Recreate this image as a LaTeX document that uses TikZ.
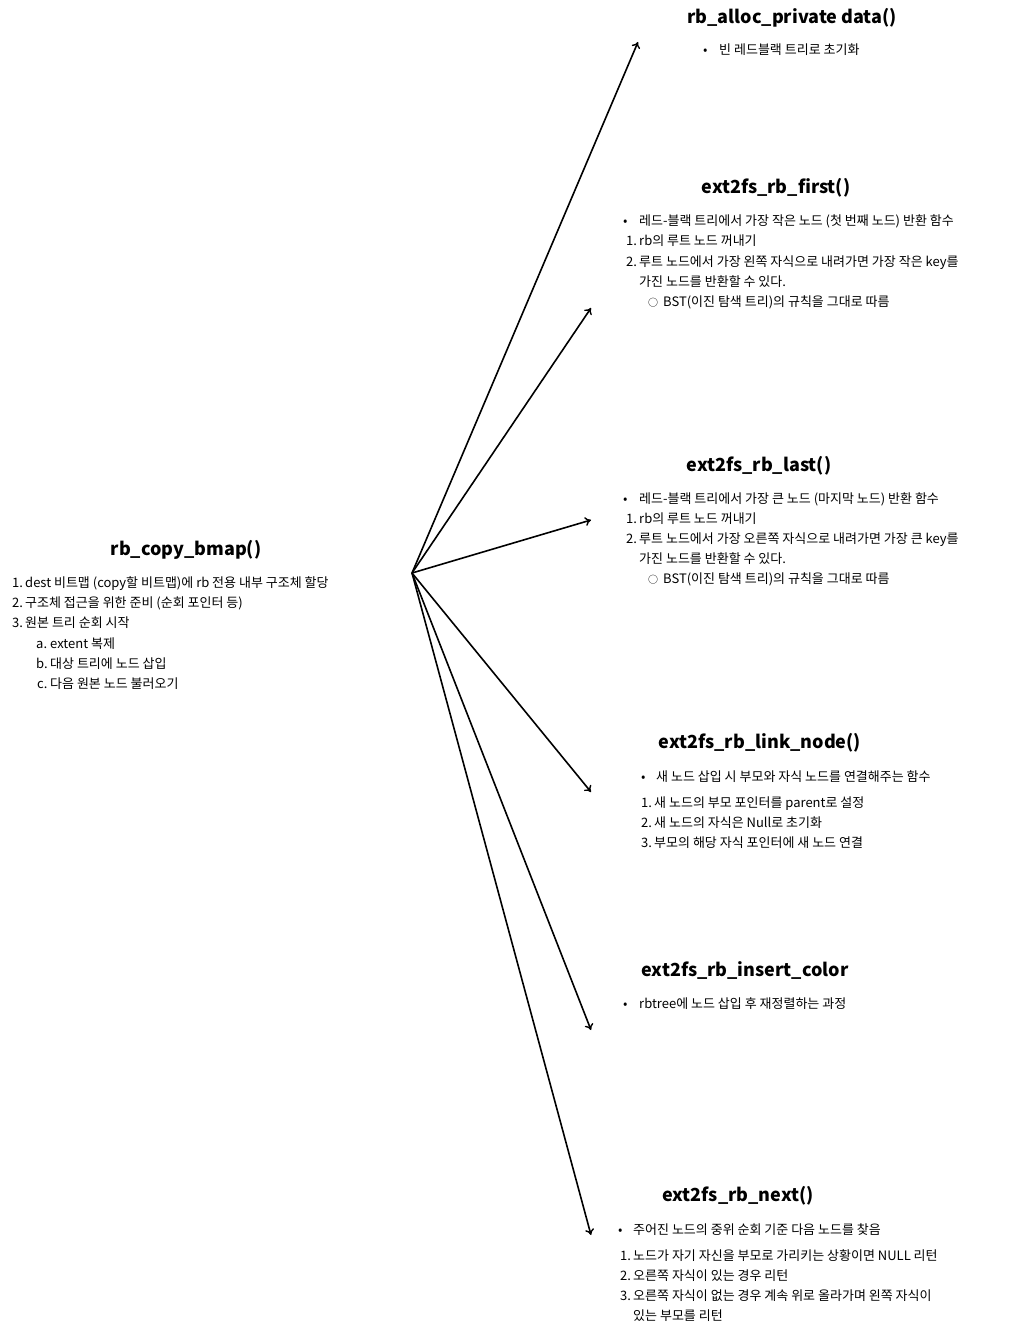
\documentclass[tikz,border=0pt]{standalone}
\usepackage{fontspec}
\setmainfont{Noto Sans CJK KR}
\usetikzlibrary{arrows.meta}
\tikzset{
  ttl/.style={font=\fontsize{18}{20}\selectfont\bfseries, inner sep=0pt},
  txt/.style={font=\fontsize{13}{15}\selectfont, inner sep=0pt, anchor=base west},
  arr/.style={line width=1.6pt, -{To[length=6pt,width=9pt,line width=1.4pt]}}
}
\begin{document}
\begin{tikzpicture}[x=1pt,y=-1pt]
\useasboundingbox (0,0) rectangle (1014,1332);
\coordinate (o) at (412,573);
% titles
\node[ttl] (t1) at (792,18) {rb\_alloc\_private data()};
\node[ttl] (t2) at (776,188) {ext2fs\_rb\_first()};
\node[ttl] (t3) at (759,466) {ext2fs\_rb\_last()};
\node[ttl] (t4) at (760,743) {ext2fs\_rb\_link\_node()};
\node[ttl] (t5) at (745,970) {ext2fs\_rb\_insert\_color};
\node[ttl] (t6) at (738,1196) {ext2fs\_rb\_next()};
\node[ttl] (t0) at (186,550) {rb\_copy\_bmap()};
% left block
\node[txt] (a1n) at (12,587) {1.}; \node[txt] (a1) at (25,587) {dest 비트맵 (copy할 비트맵)에 rb 전용 내부 구조체 할당};
\node[txt] (a2n) at (12,607) {2.}; \node[txt] (a2) at (25,607) {구조체 접근을 위한 준비 (순회 포인터 등)};
\node[txt] (a3n) at (12,627) {3.}; \node[txt] (a3) at (25,627) {원본 트리 순회 시작};
\node[txt] (a4n) at (36,648) {a.}; \node[txt] (a4) at (50,648) {extent 복제};
\node[txt] (a5n) at (36,668) {b.}; \node[txt] (a5) at (50,668) {대상 트리에 노드 삽입};
\node[txt] (a6n) at (37,688) {c.}; \node[txt] (a6) at (50,688) {다음 원본 노드 불러오기};
% block 1
\node[txt] (b1n) at (703,55) {•}; \node[txt] (b1) at (719,55) {빈 레드블랙 트리로 초기화};
% block 2
\node[txt] (c1n) at (623,226) {•}; \node[txt] (c1) at (639,226) {레드-블랙 트리에서 가장 작은 노드 (첫 번째 노드) 반환 함수};
\node[txt] (c2n) at (626,246) {1.}; \node[txt] (c2) at (639,246) {rb의 루트 노드 꺼내기};
\node[txt] (c3n) at (626,266) {2.}; \node[txt] (c3) at (639,266) {루트 노드에서 가장 왼쪽 자식으로 내려가면 가장 작은 key를};
\node[txt] (c4) at (639,286) {가진 노드를 반환할 수 있다.};
\node[txt] (c5n) at (648,306) {\fontsize{10}{12}\selectfont ○}; \node[txt] (c5) at (663,306) {BST(이진 탐색 트리)의 규칙을 그대로 따름};
% block 3
\node[txt] (d1n) at (623,503) {•}; \node[txt] (d1) at (639,503) {레드-블랙 트리에서 가장 큰 노드 (마지막 노드) 반환 함수};
\node[txt] (d2n) at (626,523) {1.}; \node[txt] (d2) at (639,523) {rb의 루트 노드 꺼내기};
\node[txt] (d3n) at (626,543) {2.}; \node[txt] (d3) at (639,543) {루트 노드에서 가장 오른쪽 자식으로 내려가면 가장 큰 key를};
\node[txt] (d4) at (639,563) {가진 노드를 반환할 수 있다.};
\node[txt] (d5n) at (648,583) {\fontsize{10}{12}\selectfont ○}; \node[txt] (d5) at (663,583) {BST(이진 탐색 트리)의 규칙을 그대로 따름};
% block 4
\node[txt] (e1n) at (641,781) {•}; \node[txt] (e1) at (656,781) {새 노드 삽입 시 부모와 자식 노드를 연결해주는 함수};
\node[txt] (e2n) at (641,807) {1.}; \node[txt] (e2) at (654,807) {새 노드의 부모 포인터를 parent로 설정};
\node[txt] (e3n) at (641,827) {2.}; \node[txt] (e3) at (654,827) {새 노드의 자식은 Null로 초기화};
\node[txt] (e4n) at (641,847) {3.}; \node[txt] (e4) at (654,847) {부모의 해당 자식 포인터에 새 노드 연결};
% block 5
\node[txt] (f1n) at (623,1008) {•}; \node[txt] (f1) at (639,1008) {rbtree에 노드 삽입 후 재정렬하는 과정};
% block 6
\node[txt] (g1n) at (618,1234) {•}; \node[txt] (g1) at (633,1234) {주어진 노드의 중위 순회 기준 다음 노드를 찾음};
\node[txt] (g2n) at (620,1260) {1.}; \node[txt] (g2) at (633,1260) {노드가 자기 자신을 부모로 가리키는 상황이면 NULL 리턴};
\node[txt] (g3n) at (620,1280) {2.}; \node[txt] (g3) at (633,1280) {오른쪽 자식이 있는 경우 리턴};
\node[txt] (g4n) at (620,1300) {3.}; \node[txt] (g4) at (633,1300) {오른쪽 자식이 없는 경우 계속 위로 올라가며 왼쪽 자식이};
\node[txt] (g5) at (633,1320) {있는 부모를 리턴};
% arrow ends
\coordinate (p1) at (638,42);
\coordinate (p2) at (591,308);
\coordinate (p3) at (591,520);
\coordinate (p4) at (591,792);
\coordinate (p5) at (591,1030);
\coordinate (p6) at (591,1235);
\foreach \p in {p1,p2,p3,p4,p5,p6} \draw[arr] (o) -- (\p);
\end{tikzpicture}
\end{document}
